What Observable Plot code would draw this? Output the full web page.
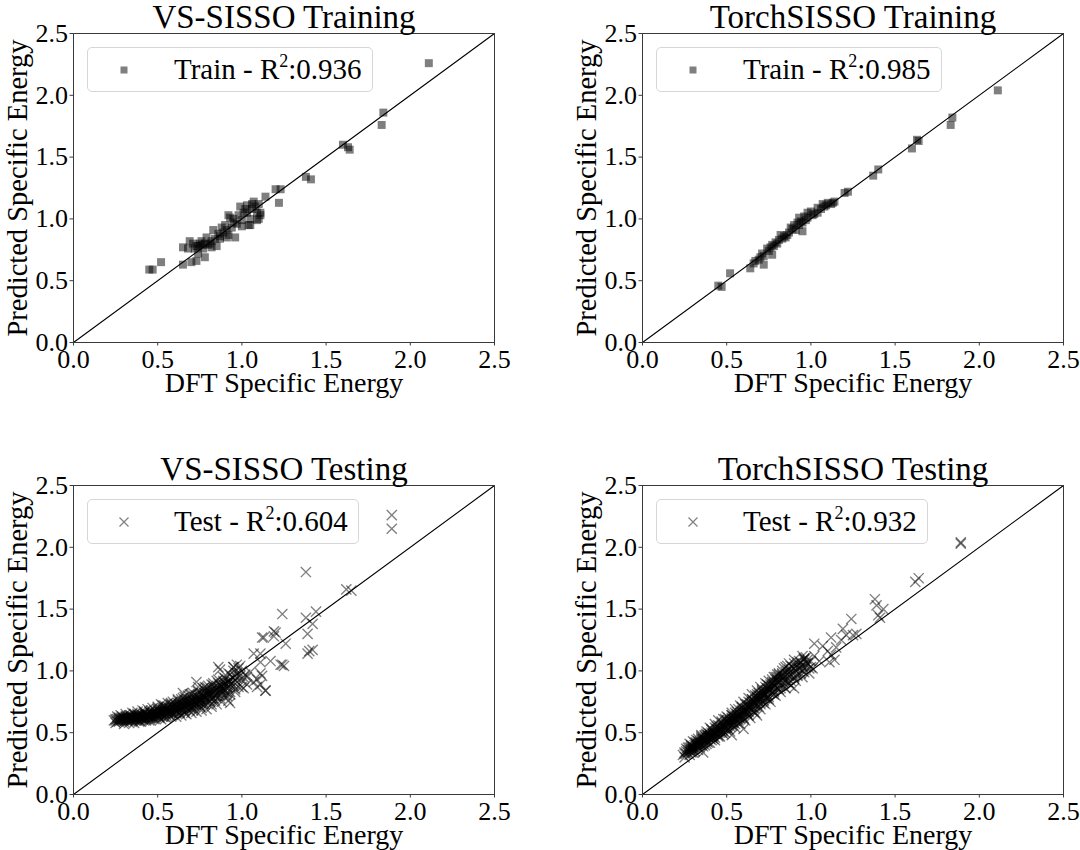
<!DOCTYPE html>
<html>
<head>
<meta charset="utf-8">
<script src="https://cdn.jsdelivr.net/npm/d3@7"></script>
<script src="https://cdn.jsdelivr.net/npm/@observablehq/plot@0.6"></script>
<style>
  html, body { margin: 0; padding: 0; background: #fff; }
  #root { position: relative; width: 1080px; height: 850px; font-family: "Liberation Serif", "Times New Roman", Times, "DejaVu Serif", serif; }
  .panel { position: absolute; width: 540px; height: 425px; }
  .legend { position: absolute; left: 87px; top: 47px; height: 45px; box-sizing: border-box;
    border: 1px solid #d6d6d6; border-radius: 5px; background: rgba(255,255,255,0.85);
    padding: 0 10px 0 86px; font-size: 29px; line-height: 43px; color: #000; white-space: nowrap; }
  .legend sup { font-size: 18px; vertical-align: 0; position: relative; top: -12px; }
  .legend svg { position: absolute; left: 29px; top: 15px; }
</style>
</head>
<body>
<div id="root"></div>
<script>
// ---------------- data ----------------
const axisTicks = [0, 0.5, 1.0, 1.5, 2.0, 2.5];
const diagonal = [0, 2.5];
const panelTitles = ["VS-SISSO Training", "TorchSISSO Training", "VS-SISSO Testing", "TorchSISSO Testing"];
const legendNames = ["Train", "Train", "Test", "Test"];
const r2Values = ["0.936", "0.985", "0.604", "0.932"];
const xLabel = "DFT Specific Energy";
const yLabel = "Predicted Specific Energy";

// [DFT, predicted]
const vsTrain = [[2.11,2.26],[1.84,1.86],[1.83,1.76],[1.60,1.60],[1.63,1.58],[1.64,1.56],[1.38,1.34],[1.41,1.32],
  [1.20,1.24],[1.23,1.24],[1.22,1.13],[1.14,1.18],[1.07,1.14],[1.08,1.10],[1.03,1.11],[0.99,1.10],[1.11,1.05],
  [1.10,1.00],[1.11,1.03],[1.05,0.95],[0.98,1.03],[0.93,1.01],[0.92,1.03],[0.97,0.96],[0.91,0.91],[0.88,0.93],
  [0.91,0.85],[0.96,0.85],[0.83,0.91],[0.84,0.84],[0.79,0.85],[0.81,0.80],[0.76,0.82],[0.74,0.78],[0.71,0.80],
  [0.69,0.82],[0.65,0.77],[0.68,0.76],[0.72,0.76],[0.78,0.80],[0.82,0.77],[0.85,0.78],[0.77,0.76],[0.74,0.72],
  [0.78,0.69],[0.73,0.66],[0.70,0.65],[0.65,0.63],[0.52,0.65],[0.47,0.59],[0.45,0.59],[1.03,1.05],[1.09,1.05],
  [1.01,1.05],[0.95,0.97],[0.89,0.89],[0.92,0.87],[0.87,0.84],[1.06,1.12],[1.02,1.08],[0.87,0.86],[0.80,0.79],
  [0.76,0.79],[0.95,1.00],[1.00,0.99],[1.06,1.08],[1.10,1.12],[0.90,0.95],[0.86,0.88],[0.75,0.80],[0.73,0.78],
  [0.82,0.82],[0.94,0.93],[1.05,1.00],[1.09,0.99],[1.00,0.94],[1.04,0.95]];

const torchTrain = [[2.11,2.04],[1.84,1.82],[1.83,1.76],[1.63,1.64],[1.64,1.63],[1.60,1.57],[1.40,1.40],[1.37,1.35],
  [1.22,1.22],[1.20,1.21],[1.13,1.13],[1.10,1.13],[1.07,1.12],[1.04,1.09],[1.04,1.05],[1.01,1.03],[0.98,1.05],
  [0.96,1.02],[0.93,1.01],[0.94,0.98],[0.90,0.95],[0.95,0.90],[0.91,0.91],[0.88,0.93],[0.86,0.87],[0.82,0.87],
  [0.83,0.84],[0.80,0.80],[0.77,0.79],[0.74,0.76],[0.75,0.74],[0.77,0.71],[0.72,0.70],[0.69,0.67],[0.66,0.64],
  [0.64,0.60],[0.72,0.63],[0.52,0.56],[0.47,0.45],[0.45,0.46],[1.12,1.12],[1.08,1.10],[0.98,1.01],[1.00,1.06],
  [0.92,0.97],[0.84,0.86],[0.78,0.78],[0.81,0.83],[1.09,1.11],[1.06,1.08],[0.97,0.99],[0.89,0.92],[0.85,0.85],
  [0.79,0.81],[0.76,0.77],[0.71,0.72],[0.70,0.69],[0.67,0.66],[1.02,1.04],[0.93,0.95],[0.87,0.89],[0.95,0.97],
  [1.14,1.14]];

const vsTest = [[1.89,2.26],[1.89,2.15],[1.38,1.80],[1.62,1.66],[1.65,1.65],[1.44,1.48],[1.38,1.43],[1.42,1.38],
  [1.39,1.30],[1.39,1.14],[1.42,1.17],[1.40,1.16],[1.24,1.46],[1.20,1.31],[1.19,1.28],[1.26,1.22],[1.12,1.27],
  [1.07,1.14],[1.11,1.14],[1.11,1.07],[1.17,1.08],[1.24,1.05],[1.25,1.04],[1.11,0.98],[1.09,0.93],[1.12,0.96],
  [1.09,0.87],[1.14,0.84],[1.03,0.95],[1.07,0.91],[1.00,0.87],[0.97,1.05],[0.95,1.03],[0.87,1.01],[0.89,0.92],
  [0.91,0.82],[0.92,0.76],[0.73,0.91],[0.65,0.82],[0.52,0.73],[1.13,1.27],[1.19,1.32],[1.23,1.05],[0.86,1.03],
  [1.11,0.89],[1.14,0.84],[0.93,0.74],[1.01,0.95],
  [0.24,0.60],[0.25,0.61],[0.26,0.59],[0.27,0.60],[0.27,0.62],[0.28,0.61],[0.29,0.60],[0.29,0.63],[0.30,0.61],
  [0.30,0.59],[0.31,0.62],[0.31,0.60],[0.32,0.63],[0.32,0.61],[0.33,0.60],[0.33,0.64],[0.34,0.62],[0.34,0.61],
  [0.35,0.63],[0.35,0.60],[0.36,0.62],[0.36,0.65],[0.37,0.61],[0.37,0.63],[0.38,0.62],[0.38,0.64],[0.39,0.60],
  [0.39,0.63],[0.40,0.65],[0.40,0.62],[0.41,0.64],[0.41,0.61],[0.42,0.63],[0.42,0.66],[0.43,0.62],[0.43,0.64],
  [0.44,0.65],[0.44,0.63],[0.45,0.67],[0.45,0.62],[0.46,0.64],[0.46,0.66],[0.47,0.63],[0.47,0.65],[0.48,0.68],
  [0.48,0.64],[0.49,0.66],[0.49,0.63],[0.50,0.65],[0.50,0.68],[0.51,0.64],[0.51,0.67],[0.52,0.66],[0.52,0.69],
  [0.53,0.65],[0.53,0.67],[0.54,0.70],[0.54,0.66],[0.55,0.68],[0.55,0.65],[0.56,0.69],[0.56,0.71],[0.57,0.67],
  [0.57,0.70],[0.58,0.68],[0.58,0.72],[0.59,0.66],[0.59,0.70],[0.60,0.69],[0.60,0.73],[0.61,0.71],[0.61,0.68],
  [0.62,0.70],[0.62,0.74],[0.63,0.72],[0.63,0.69],[0.64,0.71],[0.64,0.75],[0.65,0.73],[0.65,0.70],[0.66,0.72],
  [0.66,0.76],[0.67,0.74],[0.67,0.71],[0.68,0.73],[0.68,0.77],[0.69,0.75],[0.69,0.72],[0.70,0.74],[0.70,0.78],
  [0.71,0.76],[0.71,0.73],[0.72,0.75],[0.72,0.79],[0.73,0.77],[0.73,0.74],[0.74,0.76],[0.74,0.81],[0.75,0.78],
  [0.75,0.74],[0.76,0.77],[0.76,0.82],[0.77,0.79],[0.77,0.75],[0.78,0.80],[0.78,0.84],[0.79,0.78],[0.79,0.76],
  [0.80,0.81],[0.80,0.86],[0.81,0.79],[0.81,0.83],[0.82,0.77],[0.82,0.85],[0.83,0.82],[0.83,0.88],[0.84,0.80],
  [0.84,0.84],[0.85,0.86],[0.85,0.78],[0.86,0.83],[0.86,0.90],[0.87,0.85],[0.87,0.80],[0.88,0.88],[0.88,0.83],
  [0.89,0.91],[0.89,0.86],[0.90,0.84],[0.90,0.94],[0.91,0.89],[0.91,0.80],[0.92,0.92],[0.92,0.86],[0.93,0.97],
  [0.93,0.83],[0.94,0.90],[0.94,0.95],[0.95,0.88],[0.95,1.00],[0.96,0.93],[0.96,0.85],[0.97,0.98],[0.97,0.91],
  [0.98,1.02],[0.98,0.87],[0.99,0.96],[1.00,1.00],[1.00,0.92],[1.02,0.97],[1.03,0.89],[1.05,0.99],
  [0.26,0.61],[0.28,0.60],[0.30,0.62],[0.32,0.60],[0.34,0.63],[0.36,0.61],[0.38,0.63],[0.40,0.61],[0.42,0.62],
  [0.44,0.64],[0.46,0.62],[0.48,0.66],[0.50,0.64],[0.52,0.67],[0.54,0.68],[0.56,0.67],[0.58,0.70],[0.60,0.71],
  [0.62,0.72],[0.64,0.73],[0.66,0.74],[0.68,0.75],[0.70,0.76],[0.72,0.77],[0.74,0.78],[0.76,0.79],[0.78,0.82],
  [0.80,0.83],[0.83,0.86],[0.86,0.87],[0.89,0.89],[0.92,0.90],
  [0.25,0.58],[0.26,0.63],[0.28,0.64],[0.30,0.57],[0.31,0.65],[0.33,0.58],[0.35,0.66],[0.36,0.58],[0.38,0.67],
  [0.39,0.59],[0.41,0.68],[0.42,0.60],[0.44,0.69],[0.45,0.60],[0.47,0.70],[0.48,0.61],[0.50,0.71],[0.51,0.62],
  [0.53,0.72],[0.54,0.63],[0.56,0.74],[0.57,0.64],[0.59,0.75],[0.60,0.66],[0.62,0.77],[0.63,0.67],[0.65,0.78],
  [0.66,0.68],[0.68,0.80],[0.69,0.70],[0.71,0.82],[0.72,0.71],[0.74,0.84],[0.75,0.72],[0.77,0.86],[0.78,0.73],
  [0.80,0.88],[0.81,0.75],[0.83,0.90],[0.84,0.76],[0.86,0.93],[0.87,0.78],[0.89,0.95],[0.90,0.80],[0.92,0.98],
  [0.93,0.81],[0.95,1.03],[0.96,0.83],[0.99,1.04],[1.01,0.86],
  [0.27,0.61],[0.29,0.62],[0.31,0.61],[0.33,0.62],[0.35,0.62],[0.37,0.62],[0.39,0.64],[0.41,0.63],[0.43,0.65],
  [0.45,0.64],[0.47,0.66],[0.49,0.67],[0.51,0.66],[0.53,0.69],[0.55,0.67],[0.57,0.69],[0.59,0.71],[0.61,0.70],
  [0.63,0.73],[0.65,0.72],[0.67,0.73],[0.69,0.74],[0.71,0.75],[0.73,0.76],[0.75,0.77],[0.77,0.80],[0.79,0.81],
  [0.81,0.82],[0.84,0.86],[0.87,0.88],[0.90,0.90],[0.93,0.92],[0.96,0.96],
  [0.40,0.59],[0.43,0.60],[0.46,0.60],[0.49,0.61],[0.52,0.61],[0.55,0.62],[0.58,0.63],[0.61,0.63],[0.64,0.64],
  [0.67,0.65],[0.70,0.66],[0.73,0.67],[0.76,0.68],[0.79,0.69],[0.82,0.71],[0.85,0.73],[0.88,0.75],
  [0.50,0.69],[0.53,0.70],[0.56,0.66],[0.58,0.74],[0.61,0.66],[0.64,0.77],[0.66,0.66],[0.69,0.81],[0.71,0.68],
  [0.74,0.87],[0.76,0.70],[0.79,0.86],[0.82,0.73],[0.85,0.92],
  [0.28,0.62],[0.32,0.62],[0.34,0.60],[0.37,0.64],[0.40,0.63],[0.43,0.63],[0.46,0.65],[0.49,0.65],[0.52,0.64],
  [0.55,0.70],[0.58,0.66],[0.61,0.73],[0.64,0.69],[0.67,0.76],[0.70,0.70],[0.73,0.80],[0.76,0.74],[0.79,0.83],
  [0.82,0.80],[0.85,0.82],[0.88,0.86],
  [0.25,0.60],[0.27,0.59],[0.29,0.61],[0.31,0.63],[0.33,0.61],[0.35,0.61],[0.37,0.60],[0.39,0.62],[0.41,0.62],
  [0.43,0.61],[0.45,0.63],[0.47,0.62],[0.49,0.64],[0.51,0.63],[0.53,0.63],[0.55,0.64],[0.57,0.66],[0.59,0.65],
  [0.61,0.67],[0.63,0.66],[0.65,0.68],[0.67,0.69],[0.69,0.68],[0.71,0.70],[0.73,0.72],[0.75,0.71],[0.77,0.73],
  [0.79,0.74],[0.81,0.76],[0.83,0.78],[0.85,0.80],[0.87,0.83],[0.89,0.84],[0.91,0.87],[0.93,0.89],[0.95,0.91],
  [0.97,0.94],
  [0.34,0.64],[0.38,0.65],[0.42,0.67],[0.46,0.68],[0.50,0.70],[0.54,0.72],[0.58,0.73],[0.62,0.76],[0.66,0.79],
  [0.70,0.81],[0.74,0.83],[0.78,0.87],[0.82,0.89]];

const torchTest = [[1.89,2.03],[1.89,2.04],[1.62,1.72],[1.64,1.75],[1.38,1.58],[1.39,1.53],[1.43,1.50],[1.40,1.45],
  [1.41,1.43],[1.24,1.42],[1.19,1.34],[1.21,1.29],[1.25,1.29],[1.12,1.27],[1.02,1.22],[1.07,1.20],[1.10,1.16],
  [1.12,1.13],[1.14,1.09],[1.11,1.07],[0.96,1.10],[0.98,1.06],[1.01,1.02],[0.93,1.02],[0.90,0.86],[0.88,0.97],
  [0.80,0.91],[0.83,0.98],[0.68,0.64],[0.60,0.53],[0.53,0.48],[0.36,0.34],[0.29,0.34],[1.05,1.08],[1.15,1.19],
  [1.18,1.25],[1.27,1.30],
  [0.24,0.32],[0.25,0.34],[0.26,0.33],[0.27,0.36],[0.28,0.35],[0.28,0.38],[0.29,0.36],[0.30,0.39],[0.30,0.37],
  [0.31,0.40],[0.31,0.37],[0.32,0.39],[0.32,0.42],[0.33,0.40],[0.33,0.38],[0.34,0.43],[0.34,0.41],[0.35,0.44],
  [0.35,0.40],[0.36,0.42],[0.36,0.45],[0.37,0.43],[0.37,0.47],[0.38,0.44],[0.38,0.41],[0.39,0.46],[0.39,0.48],
  [0.40,0.45],[0.40,0.49],[0.41,0.47],[0.41,0.44],[0.42,0.50],[0.42,0.48],[0.43,0.46],[0.43,0.51],[0.44,0.49],
  [0.44,0.53],[0.45,0.50],[0.45,0.47],[0.46,0.52],[0.46,0.55],[0.47,0.50],[0.47,0.53],[0.48,0.56],[0.48,0.51],
  [0.49,0.54],[0.49,0.58],[0.50,0.55],[0.50,0.52],[0.51,0.57],[0.51,0.60],[0.52,0.55],[0.52,0.58],[0.53,0.61],
  [0.53,0.56],[0.54,0.59],[0.54,0.63],[0.55,0.60],[0.55,0.57],[0.56,0.62],[0.56,0.65],[0.57,0.60],[0.57,0.63],
  [0.58,0.66],[0.58,0.61],[0.59,0.64],[0.59,0.68],[0.60,0.65],[0.60,0.62],[0.61,0.67],[0.61,0.70],[0.62,0.66],
  [0.62,0.69],[0.63,0.72],[0.63,0.67],[0.64,0.70],[0.64,0.74],[0.65,0.71],[0.65,0.68],[0.66,0.73],[0.66,0.76],
  [0.67,0.72],[0.67,0.75],[0.68,0.78],[0.68,0.73],[0.69,0.76],[0.69,0.80],[0.70,0.77],[0.70,0.73],[0.71,0.79],
  [0.71,0.82],[0.72,0.76],[0.72,0.80],[0.73,0.84],[0.73,0.78],[0.74,0.81],[0.74,0.86],[0.75,0.83],[0.75,0.79],
  [0.76,0.85],[0.76,0.89],[0.77,0.82],[0.77,0.87],[0.78,0.91],[0.78,0.84],[0.79,0.88],[0.79,0.93],[0.80,0.86],
  [0.80,0.90],[0.81,0.95],[0.82,0.88],[0.82,0.92],[0.83,0.97],[0.84,0.90],[0.84,0.95],[0.85,0.99],[0.85,0.91],
  [0.86,0.94],[0.87,1.01],[0.87,0.96],[0.88,0.92],[0.89,0.98],[0.89,1.03],[0.90,0.95],[0.91,1.00],[0.92,1.05],
  [0.92,0.97],[0.93,1.02],[0.94,1.07],[0.95,1.00],[0.95,1.04],[0.96,1.09],[0.97,1.03],[0.98,1.06],[0.99,1.02],
  [1.00,1.08],
  [0.27,0.34],[0.29,0.37],[0.31,0.38],[0.33,0.41],[0.35,0.42],[0.37,0.45],[0.39,0.47],[0.41,0.46],[0.43,0.49],
  [0.45,0.52],[0.47,0.55],[0.49,0.56],[0.51,0.58],[0.53,0.59],[0.55,0.62],[0.57,0.64],[0.59,0.66],[0.61,0.68],
  [0.63,0.70],[0.65,0.73],[0.67,0.77],[0.69,0.78],[0.71,0.80],[0.73,0.81],[0.75,0.85],[0.77,0.90],[0.80,0.93],
  [0.83,0.94],
  [0.25,0.30],[0.26,0.37],[0.28,0.32],[0.29,0.40],[0.31,0.35],[0.32,0.44],[0.34,0.38],[0.35,0.47],[0.37,0.40],
  [0.38,0.49],[0.40,0.42],[0.41,0.52],[0.43,0.44],[0.44,0.55],[0.46,0.47],[0.47,0.58],[0.49,0.50],[0.50,0.60],
  [0.52,0.51],[0.53,0.64],[0.55,0.54],[0.56,0.67],[0.58,0.57],[0.59,0.71],[0.61,0.60],[0.62,0.73],[0.64,0.62],
  [0.65,0.77],[0.67,0.66],[0.68,0.81],[0.70,0.69],[0.71,0.85],[0.73,0.73],[0.74,0.89],[0.76,0.75],[0.77,0.93],
  [0.79,0.80],[0.80,0.97],[0.82,0.83],[0.83,1.00],[0.85,0.86],[0.86,1.04],[0.88,0.88],[0.90,1.06],[0.91,0.92],
  [0.93,1.08],[0.95,0.95],[0.97,1.11],[0.99,0.98],[1.02,1.12],
  [0.26,0.35],[0.28,0.36],[0.30,0.38],[0.32,0.40],[0.34,0.42],[0.36,0.44],[0.38,0.46],[0.40,0.47],[0.42,0.49],
  [0.44,0.51],[0.46,0.53],[0.48,0.54],[0.50,0.57],[0.52,0.60],[0.54,0.61],[0.56,0.63],[0.58,0.64],[0.60,0.67],
  [0.62,0.68],[0.64,0.72],[0.66,0.75],[0.68,0.76],[0.70,0.79],[0.72,0.82],[0.74,0.83],[0.76,0.87],[0.78,0.88],
  [0.81,0.91],[0.84,0.93],[0.86,0.97],[0.88,1.00],[0.91,1.03],[0.94,1.04],[0.97,1.06],
  [0.28,0.41],[0.30,0.43],[0.33,0.45],[0.35,0.48],[0.38,0.51],[0.40,0.54],[0.43,0.57],[0.45,0.60],[0.48,0.61],
  [0.50,0.63],[0.53,0.66],[0.55,0.69],[0.58,0.72],[0.60,0.75],[0.63,0.78],[0.65,0.81],[0.68,0.84],[0.70,0.87],
  [0.73,0.90],[0.75,0.92],[0.78,0.95],[0.81,0.98],[0.84,1.02],[0.87,1.06],[0.90,1.09],[0.95,1.12],
  [0.30,0.34],[0.33,0.36],[0.36,0.39],[0.39,0.42],[0.42,0.45],[0.45,0.48],[0.48,0.49],[0.51,0.53],[0.54,0.56],
  [0.57,0.58],[0.60,0.61],[0.63,0.64],[0.66,0.67],[0.69,0.71],[0.72,0.74],[0.75,0.77],[0.78,0.81],[0.81,0.85],
  [0.84,0.87],[0.87,0.90],[0.92,0.96],[0.96,0.99],[1.00,1.03],
  [0.29,0.38],[0.32,0.41],[0.35,0.45],[0.38,0.48],[0.41,0.50],[0.44,0.52],[0.47,0.56],[0.50,0.59],[0.53,0.62],
  [0.56,0.64],[0.59,0.67],[0.62,0.71],[0.65,0.75],[0.68,0.79],[0.71,0.83],[0.74,0.85],[0.77,0.88],[0.80,0.95],
  [0.83,0.96],[0.86,1.00],[0.90,1.02],[0.94,1.06],[0.98,1.09],
  [0.25,0.33],[0.27,0.38],[0.29,0.39],[0.31,0.42],[0.33,0.43],[0.35,0.46],[0.37,0.48],[0.39,0.50],[0.41,0.53],
  [0.43,0.54],[0.45,0.56],[0.47,0.59],[0.49,0.61],[0.51,0.62],[0.53,0.64],[0.55,0.66],[0.57,0.69],[0.59,0.70],
  [0.61,0.73],[0.63,0.75],[0.65,0.77],[0.67,0.80],[0.69,0.82],[0.71,0.84],[0.73,0.87],[0.75,0.88],[0.77,0.91],
  [0.79,0.95],[0.81,0.97],[0.85,1.03],[0.88,1.04],[0.92,1.07],[0.96,1.10],
  [0.30,0.36],[0.34,0.40],[0.38,0.43],[0.42,0.47],[0.46,0.50],[0.50,0.54],[0.54,0.58],[0.58,0.62],[0.62,0.65],
  [0.66,0.70],[0.70,0.74],[0.74,0.78],[0.78,0.83],[0.82,0.86],[0.86,0.91],[0.90,0.94],[0.94,0.98]];

const panelData = [vsTrain, torchTrain, vsTest, torchTest];
const panelSymbols = ["square", "square", "times", "times"];

// ---------------- drawing ----------------
const FONT = "'Liberation Serif', 'Times New Roman', Times, 'DejaVu Serif', serif";
const root = document.getElementById("root");
const fmt = d3.format(".1f");
const positions = [[0, 0], [569, 0], [0, 452], [569, 452]];

panelData.forEach((data, i) => {
  const isSquare = panelSymbols[i] === "square";
  const pointMark = isSquare
    ? Plot.dot(data, {x: d => d[0], y: d => d[1], symbol: "square", r: 4.5, fill: "black", fillOpacity: 0.5, stroke: "none"})
    : Plot.dot(data, {x: d => d[0], y: d => d[1], symbol: "times", r: 4.7, stroke: "black", strokeOpacity: 0.5, strokeWidth: 1.35, fill: "none"});

  const chart = Plot.plot({
    width: 540, height: 425,
    marginLeft: 73, marginRight: 46, marginTop: 33, marginBottom: 83,
    x: {domain: [0, 2.5], label: null},
    y: {domain: [0, 2.5], label: null},
    style: {fontFamily: FONT, background: "transparent", color: "black", overflow: "visible"},
    marks: [
      Plot.line(diagonal, {x: d => d, y: d => d, stroke: "black", strokeWidth: 1.1}),
      pointMark,
      Plot.frame({stroke: "#3a3a3a", strokeWidth: 1}),
      Plot.axisX({ticks: axisTicks, tickFormat: fmt, tickSize: 3.5, tickPadding: 3.5, stroke: "#3a3a3a", fill: "black", fontSize: 26, fontFamily: FONT, label: null}),
      Plot.axisY({ticks: axisTicks, tickFormat: fmt, tickSize: 3.5, tickPadding: 2, stroke: "#3a3a3a", fill: "black", fontSize: 26, fontFamily: FONT, label: null}),
      Plot.text([panelTitles[i]], {frameAnchor: "top", dy: -16, fontSize: 33, fontFamily: FONT, fill: "black", lineAnchor: "middle"}),
      Plot.text([xLabel], {frameAnchor: "bottom", dy: 41, fontSize: 28, fontFamily: FONT, fill: "black", lineAnchor: "middle"}),
      Plot.text([yLabel], {frameAnchor: "left", dx: -56, rotate: -90, fontSize: 28.5, fontFamily: FONT, fill: "black", textAnchor: "middle", lineAnchor: "middle"})
    ]
  });

  const panel = document.createElement("div");
  panel.className = "panel";
  panel.style.left = positions[i][0] + "px";
  panel.style.top = positions[i][1] + "px";
  panel.appendChild(chart);

  const legend = document.createElement("div");
  legend.className = "legend";
  const marker = isSquare
    ? `<svg width="14" height="14"><rect x="3.5" y="3.5" width="7" height="7" fill="black" fill-opacity="0.5"/></svg>`
    : `<svg width="14" height="14"><path d="M2.5,2.5L11.5,11.5M11.5,2.5L2.5,11.5" stroke="black" stroke-opacity="0.5" stroke-width="1.2"/></svg>`;
  legend.innerHTML = marker + `${legendNames[i]} - R<sup>2</sup>:${r2Values[i]}`;
  panel.appendChild(legend);

  root.appendChild(panel);
});
</script>
</body>
</html>
